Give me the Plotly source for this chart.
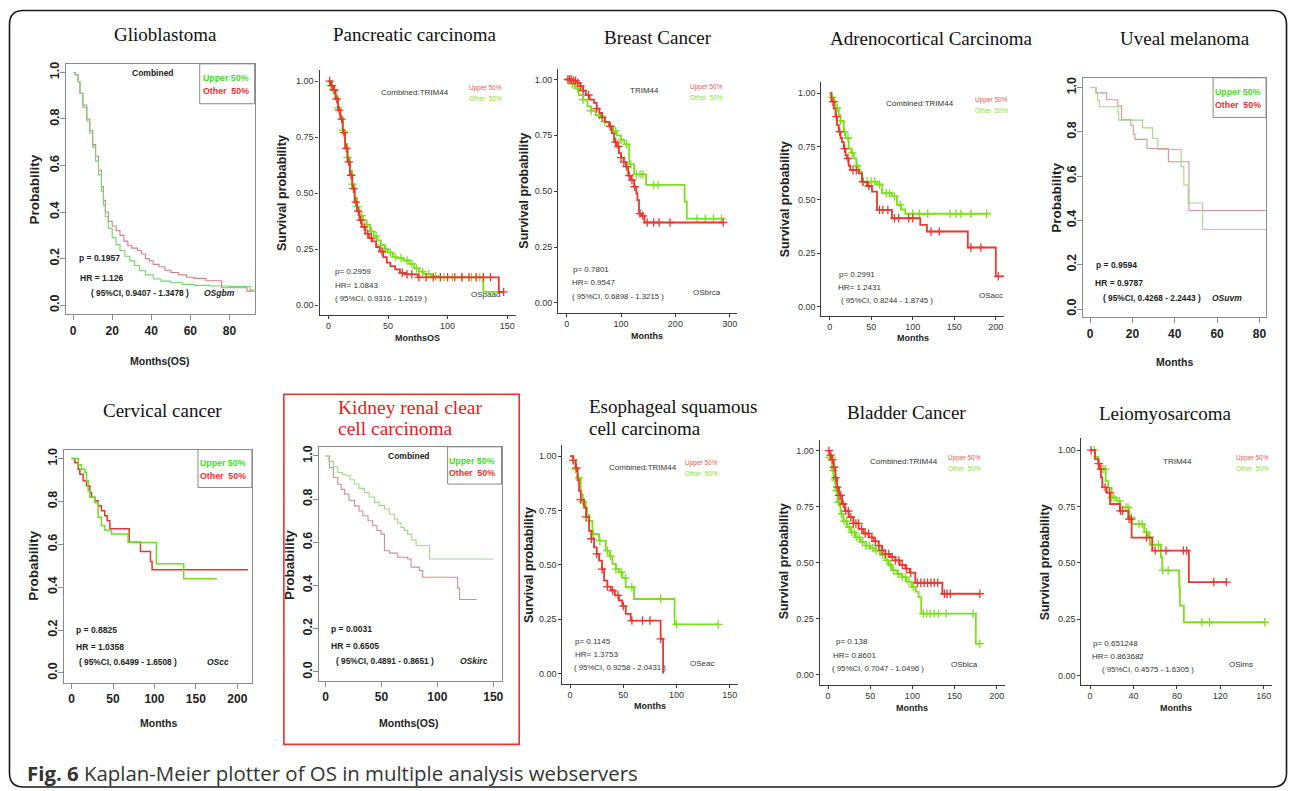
import numpy as np
import plotly.graph_objects as go

W, H = 1292, 791

# ------------------------------------------------------------------ DATA
# Glioblastoma (R style: Upper 50% green, Other 50% red)
gbm_up_t = [0, 1, 2.5, 3.5, 5, 7, 8.5, 10, 11.5, 13, 14.5, 15.5, 16.5, 18, 20, 22, 24, 26.5, 29, 31.5, 34, 37, 41, 45, 50, 56, 62, 70, 80, 90.5, 93]
gbm_up_s = [1.0, 0.99, 0.96, 0.91, 0.85, 0.79, 0.74, 0.68, 0.62, 0.56, 0.49, 0.43, 0.38, 0.33, 0.29, 0.26, 0.235, 0.21, 0.19, 0.17, 0.148, 0.13, 0.112, 0.103, 0.096, 0.089, 0.085, 0.082, 0.08, 0.065, 0.065]
gbm_ot_t = [0, 1, 2.5, 3.5, 5, 7, 8.5, 10, 11.5, 13, 14.5, 15.5, 16.5, 18, 20, 22, 24, 26, 28, 30, 33, 35, 37, 39, 41, 44, 47, 50, 54, 58, 62, 68, 76, 89, 93]
gbm_ot_s = [1.0, 0.99, 0.96, 0.91, 0.86, 0.80, 0.75, 0.69, 0.64, 0.58, 0.51, 0.45, 0.40, 0.36, 0.34, 0.32, 0.30, 0.275, 0.255, 0.245, 0.235, 0.22, 0.20, 0.19, 0.175, 0.165, 0.15, 0.14, 0.13, 0.12, 0.115, 0.105, 0.075, 0.06, 0.06]

# Pancreatic carcinoma (survminer: Upper 50% red, Other 50% green)
paad_up_t = [0, 2, 4, 6, 8, 10, 12, 14, 16, 18, 20, 22, 24, 26, 28, 31, 34, 37, 40, 43, 46, 49, 52, 56, 60, 65, 75, 143, 147]
paad_up_s = [1.0, 0.98, 0.96, 0.92, 0.87, 0.83, 0.77, 0.70, 0.64, 0.58, 0.52, 0.46, 0.42, 0.38, 0.35, 0.32, 0.30, 0.285, 0.26, 0.24, 0.215, 0.19, 0.175, 0.16, 0.145, 0.138, 0.125, 0.06, 0.06]
paad_ot_t = [0, 2, 4, 6, 8, 10, 12, 14, 16, 18, 20, 22, 24, 26, 29, 32, 35, 38, 41, 44, 47, 50, 54, 58, 63, 68, 72, 76, 80, 86, 92, 130, 147]
paad_ot_s = [1.0, 0.98, 0.96, 0.93, 0.88, 0.84, 0.78, 0.72, 0.66, 0.60, 0.54, 0.48, 0.44, 0.40, 0.38, 0.36, 0.33, 0.31, 0.29, 0.27, 0.25, 0.235, 0.215, 0.21, 0.20, 0.185, 0.165, 0.15, 0.14, 0.13, 0.125, 0.06, 0.06]
paad_up_c = [1, 3, 5, 7, 9, 11, 13, 15, 17, 19, 21, 23, 25, 27, 30, 33, 36, 45, 62, 66, 70, 76, 82, 88, 94, 100, 106, 112, 118, 124, 130, 136, 147]
paad_ot_c = [2, 4, 8, 12, 16, 20, 24, 28, 32, 36, 40, 44, 48, 52, 56, 61, 66, 70, 74, 79, 84, 90, 97, 104, 112, 120, 127]

# Breast cancer
brca_up_t = [0, 10, 20, 25, 30, 35, 42, 50, 55, 60, 65, 70, 78, 83, 87, 92, 96, 100, 105, 109, 113, 118, 124, 128, 130, 133, 138, 143, 288]
brca_up_s = [1.0, 0.995, 0.985, 0.97, 0.95, 0.93, 0.91, 0.895, 0.87, 0.85, 0.83, 0.81, 0.79, 0.76, 0.72, 0.70, 0.67, 0.65, 0.63, 0.61, 0.57, 0.55, 0.52, 0.49, 0.46, 0.40, 0.39, 0.36, 0.36]
brca_ot_t = [0, 8, 15, 22, 30, 38, 45, 53, 62, 70, 78, 86, 92, 100, 106, 115, 124, 146, 217, 221, 288]
brca_ot_s = [1.0, 0.98, 0.96, 0.93, 0.91, 0.88, 0.86, 0.84, 0.83, 0.81, 0.79, 0.77, 0.75, 0.73, 0.71, 0.62, 0.575, 0.528, 0.454, 0.377, 0.377]
brca_up_c = [2, 5, 8, 12, 16, 20, 25, 30, 40, 55, 65, 80, 90, 95, 100, 105, 110, 115, 120, 125, 135, 140, 148, 160, 170, 190, 288]
brca_ot_c = [5, 10, 20, 30, 45, 60, 70, 80, 90, 100, 110, 118, 128, 135, 140, 160, 168, 240, 255, 270, 285]

# Adrenocortical carcinoma
acc_up_t = [0, 2, 4.8, 7, 8.8, 11, 13, 14.8, 17, 19, 20.8, 22.8, 24.8, 34.9, 38.9, 45, 50.9, 56.9, 74.9, 109, 117, 166.3, 200, 210]
acc_up_s = [1.0, 0.96, 0.928, 0.89, 0.85, 0.82, 0.79, 0.771, 0.74, 0.71, 0.694, 0.66, 0.639, 0.624, 0.584, 0.565, 0.539, 0.453, 0.414, 0.383, 0.352, 0.277, 0.142, 0.142]
acc_ot_t = [0, 2, 4.8, 7, 10.8, 13, 16.8, 19, 22.8, 26, 28.9, 32, 34.9, 38.9, 56.9, 62.9, 74.9, 80.9, 86, 91, 189]
acc_ot_s = [1.0, 0.98, 0.96, 0.93, 0.897, 0.87, 0.819, 0.79, 0.741, 0.72, 0.694, 0.66, 0.632, 0.586, 0.572, 0.531, 0.516, 0.477, 0.455, 0.435, 0.435]
acc_up_c = [4, 8, 12, 18, 22, 28, 32, 40, 47, 60, 64, 70, 78, 83, 95, 100, 122, 132, 170, 182, 203]
acc_ot_c = [3, 6, 9, 13, 18, 22, 27, 33, 40, 45, 50, 54, 60, 68, 72, 78, 85, 100, 108, 118, 145, 152, 158, 170, 189]

# Uveal melanoma (R style)
uvm_up_t = [0, 2.8, 3.6, 4.4, 13.1, 13.5, 24.8, 29.5, 32, 43, 44.3, 46.3, 53.2, 83]
uvm_up_s = [1.0, 0.973, 0.943, 0.913, 0.89, 0.853, 0.818, 0.77, 0.72, 0.643, 0.56, 0.479, 0.359, 0.359]
uvm_ot_t = [0, 2.8, 7.9, 13.1, 14.9, 19.3, 20.4, 21.2, 26.9, 37, 46.7, 83]
uvm_ot_s = [1.0, 0.976, 0.945, 0.916, 0.855, 0.83, 0.79, 0.766, 0.725, 0.665, 0.445, 0.445]

# Cervical cancer (R style)
cc_up_t = [0, 8, 12, 16, 18, 20, 22, 28, 32, 36, 40, 48.2, 68.2, 102.4, 135.3, 175.4]
cc_up_s = [1.0, 0.971, 0.95, 0.935, 0.896, 0.85, 0.819, 0.795, 0.726, 0.687, 0.667, 0.648, 0.609, 0.509, 0.439, 0.439]
cc_ot_t = [0, 4, 8, 10, 14, 18, 22, 24.1, 28, 32, 36, 40, 43, 46.2, 69.5, 83.1, 95.2, 97.1, 212.8]
cc_ot_s = [1.0, 0.981, 0.95, 0.927, 0.896, 0.873, 0.842, 0.819, 0.803, 0.78, 0.757, 0.733, 0.71, 0.672, 0.61, 0.567, 0.52, 0.481, 0.481]

# Kidney renal clear cell carcinoma (R style)
kirc_up_t = [0, 3, 7, 11, 15, 18.5, 22, 25.9, 30, 34.8, 39, 43.8, 48, 52.7, 57, 61.6, 64.5, 67.6, 70.5, 73.5, 77, 81, 92.9, 150.3]
kirc_up_s = [1.0, 0.975, 0.95, 0.923, 0.915, 0.908, 0.89, 0.87, 0.85, 0.831, 0.81, 0.785, 0.77, 0.754, 0.73, 0.708, 0.69, 0.669, 0.655, 0.638, 0.61, 0.585, 0.523, 0.523]
kirc_ot_t = [0, 3.6, 7, 11, 14, 17, 21, 25.9, 30, 33.3, 38, 42.2, 46, 49.7, 52.7, 57.2, 64.6, 73.5, 76.5, 83.9, 86.9, 118.1, 119.9, 135.1]
kirc_ot_s = [1.0, 0.946, 0.90, 0.869, 0.845, 0.823, 0.795, 0.769, 0.745, 0.723, 0.70, 0.677, 0.655, 0.638, 0.561, 0.55, 0.531, 0.523, 0.485, 0.469, 0.438, 0.388, 0.335, 0.335]

# Esophageal squamous cell carcinoma
eac_up_t = [0, 3, 5.3, 7, 8.4, 10, 13.1, 15, 17.8, 20, 22.5, 25, 27.2, 30, 31.9, 35, 38.2, 42, 45.9, 49, 52.2, 56.9, 85, 87.3]
eac_up_s = [1.0, 0.98, 0.946, 0.89, 0.84, 0.80, 0.763, 0.72, 0.656, 0.62, 0.58, 0.55, 0.519, 0.48, 0.427, 0.40, 0.382, 0.36, 0.336, 0.31, 0.275, 0.244, 0.16, 0.0]
eac_ot_t = [0, 3, 5, 6.9, 10, 12, 14.7, 16, 17.8, 20.9, 27.2, 33.5, 37, 39.7, 43, 45.9, 49, 52.2, 60, 98.1, 138.8]
eac_ot_s = [1.0, 0.97, 0.94, 0.90, 0.824, 0.79, 0.763, 0.73, 0.702, 0.641, 0.611, 0.565, 0.54, 0.504, 0.48, 0.466, 0.44, 0.397, 0.343, 0.226, 0.226]
eac_up_c = [3, 6, 10, 15, 20, 25, 30, 35, 40, 45, 50, 58, 68, 75, 85]
eac_ot_c = [5, 8, 12, 18, 22, 28, 35, 38, 43, 48, 52, 58, 85, 100, 139]

# Bladder cancer
blca_up_t = [0, 2, 4, 6.7, 8.7, 10.7, 13, 16.6, 20, 24.5, 30, 36.3, 42, 48.2, 54, 60, 64, 67.9, 74, 79.8, 85, 91.6, 97, 103.4, 135.5, 180.3]
blca_up_s = [1.0, 0.98, 0.96, 0.926, 0.88, 0.837, 0.80, 0.762, 0.73, 0.703, 0.675, 0.651, 0.63, 0.613, 0.595, 0.576, 0.555, 0.539, 0.525, 0.51, 0.49, 0.473, 0.455, 0.41, 0.361, 0.361]
blca_ot_t = [0, 2, 4.7, 6.5, 8.7, 11, 14.7, 18, 22.5, 27, 32.4, 38, 44.3, 50, 56.1, 62, 67.9, 72, 75.7, 82, 87.6, 93, 99.4, 104, 107.3, 110.5, 175.2, 180]
blca_ot_s = [1.0, 0.97, 0.911, 0.87, 0.822, 0.77, 0.718, 0.685, 0.658, 0.635, 0.613, 0.593, 0.576, 0.565, 0.554, 0.535, 0.51, 0.49, 0.465, 0.45, 0.435, 0.415, 0.391, 0.37, 0.346, 0.272, 0.138, 0.138]
blca_up_c = [1, 3, 5, 7, 9, 11, 13, 15, 18, 21, 24, 27, 30, 33, 36, 40, 44, 48, 52, 56, 60, 64, 68, 72, 76, 80, 84, 88, 93, 98, 106, 110, 114, 118, 122, 126, 130, 138, 141, 145, 180]
blca_ot_c = [2, 4, 6, 8, 10, 12, 14, 16, 19, 22, 25, 28, 31, 34, 37, 41, 45, 49, 53, 57, 61, 65, 70, 74, 78, 83, 88, 92, 96, 101, 113, 117, 121, 126, 131, 140, 172, 180]

# Leiomyosarcoma
lms_up_t = [0, 4.6, 7.7, 9.2, 10.1, 11.3, 15.3, 18.4, 27.6, 35.2, 38.3, 57.3, 91, 125.6]
lms_up_s = [1.0, 0.96, 0.94, 0.916, 0.879, 0.835, 0.812, 0.761, 0.731, 0.694, 0.612, 0.554, 0.414, 0.414]
lms_ot_t = [0, 4.6, 7.7, 14.4, 16.8, 19.9, 24.5, 27.6, 35.9, 38.3, 49.9, 53.6, 55.2, 65.3, 66.5, 82.1, 82.8, 86.4, 160.9]
lms_ot_s = [1.0, 0.97, 0.916, 0.863, 0.833, 0.79, 0.775, 0.746, 0.702, 0.673, 0.636, 0.614, 0.58, 0.525, 0.466, 0.392, 0.31, 0.236, 0.236]
lms_up_c = [1, 8, 10, 14, 18, 28, 30, 36, 38, 52, 60, 70, 86, 89, 114, 125.6]
lms_ot_c = [4, 12, 14, 20, 22, 27, 33, 35, 38, 45, 48, 52, 55, 63, 67, 72, 103, 110, 160.9]

# ------------------------------------------------------------------ STYLE
NARROW = "Liberation Sans Narrow, Arial Narrow, Liberation Sans, Arial, sans-serif"
SANS = "Liberation Sans, Arial, sans-serif"
SERIF = "Liberation Serif, Times New Roman, serif"

S_RED, S_GREEN = "#e8392f", "#7ddf1c"
S_RED_T, S_GREEN_T = "#ea5a50", "#86e22a"

def px(x):
    return x / W

def py(y):
    return 1 - y / H

def step_at(t, s, times):
    t = np.asarray(t, float); s = np.asarray(s, float)
    idx = np.searchsorted(t, np.asarray(times, float), side="right") - 1
    return s[np.clip(idx, 0, len(s) - 1)]

fig = go.Figure()
annotations = []
shapes = []

def ann(text, x, y, size, color="#222", family=NARROW, weight="normal", xanchor="center",
        angle=0, style="normal"):
    annotations.append(dict(text=text, x=px(x), y=py(y), xref="paper", yref="paper",
                            showarrow=False, xanchor=xanchor, yanchor="middle",
                            textangle=angle,
                            font=dict(size=size, color=color, family=family,
                                      weight=weight, style=style)))

def axname(i):
    return ("x" if i == 1 else f"x{i}"), ("y" if i == 1 else f"y{i}")

def add_panel(i, kind, box, xr, yr, xt, yt, ytxt):
    L, T, R, B = box
    xa, ya = axname(i)
    kx = "xaxis" if i == 1 else f"xaxis{i}"
    ky = "yaxis" if i == 1 else f"yaxis{i}"
    if kind == "R":
        xa_d = dict(domain=[px(L), px(R)], range=xr, anchor=ya, showgrid=False, zeroline=False,
                    showline=True, linecolor="#8a8a8a", linewidth=1, mirror=True,
                    ticks="outside", ticklen=5, tickcolor="#8a8a8a", tickvals=xt,
                    ticktext=[str(v) for v in xt], ticklabelstandoff=0,
                    tickfont=dict(family=SANS, size=12, color="#222", weight="bold"))
        ya_d = dict(domain=[py(B), py(T)], range=yr, anchor=xa, showgrid=False, zeroline=False,
                    showline=True, linecolor="#8a8a8a", linewidth=1, mirror=True,
                    ticks="outside", ticklen=5, tickcolor="#8a8a8a", tickvals=yt, ticktext=ytxt,
                    tickangle=-90, ticklabelstandoff=-4,
                    tickfont=dict(family=SANS, size=12.5, color="#222", weight="bold"))
    else:
        xa_d = dict(domain=[px(L), px(R)], range=xr, anchor=ya, showgrid=False, zeroline=False,
                    showline=True, linecolor="#3a3a3a", linewidth=1.2,
                    ticks="outside", ticklen=3, tickcolor="#3a3a3a", tickvals=xt,
                    ticktext=[str(v) for v in xt], ticklabelstandoff=-1,
                    tickfont=dict(family=SANS, size=9, color="#333"))
        ya_d = dict(domain=[py(B), py(T)], range=yr, anchor=xa, showgrid=False, zeroline=False,
                    showline=True, linecolor="#3a3a3a", linewidth=1.2,
                    ticks="outside", ticklen=3, tickcolor="#3a3a3a", tickvals=yt, ticktext=ytxt,
                    ticklabelstandoff=0,
                    tickfont=dict(family=SANS, size=9, color="#333"))
    fig.layout[kx] = xa_d
    fig.layout[ky] = ya_d

def curve(i, t, s, color, width, censor=None):
    xa, ya = axname(i)
    fig.add_trace(go.Scatter(x=t, y=s, mode="lines", line=dict(color=color, width=width, shape="hv"),
                             xaxis=xa, yaxis=ya, hoverinfo="skip"))
    if censor is not None:
        fig.add_trace(go.Scatter(x=censor, y=step_at(t, s, censor), mode="markers",
                                 marker=dict(symbol="cross-thin", size=6,
                                             line=dict(width=1.3, color=color)),
                                 xaxis=xa, yaxis=ya, hoverinfo="skip"))

R_YT = [0, 0.2, 0.4, 0.6, 0.8, 1.0]
R_YTXT = ["0.0", "0.2", "0.4", "0.6", "0.8", "1.0"]
S_YT = [0, 0.25, 0.5, 0.75, 1.0]
S_YTXT = ["0.00", "0.25", "0.50", "0.75", "1.00"]

# ---------------- panel 1: Glioblastoma
add_panel(1, "R", (66, 62, 255, 313), [-3.7, 92.9], [-0.039, 1.037], [0, 20, 40, 60, 80], R_YT, R_YTXT)
curve(1, gbm_ot_t, gbm_ot_s, "#d97f7f", 1.1)
curve(1, gbm_up_t, gbm_up_s, "#6fd86f", 1.1)
# ---------------- panel 2: Pancreatic
add_panel(2, "S", (320, 68, 517, 314), [-7.5, 157.6], [-0.044, 1.05], [0, 50, 100, 150], S_YT, S_YTXT)
curve(2, paad_ot_t, paad_ot_s, S_GREEN, 1.8, paad_ot_c)
curve(2, paad_up_t, paad_up_s, S_RED, 1.8, paad_up_c)
# ---------------- panel 3: Breast
add_panel(3, "S", (559, 66.7, 738.3, 312), [-16, 313.8], [-0.046, 1.049], [0, 100, 200, 300], S_YT, S_YTXT)
curve(3, brca_ot_t, brca_ot_s, S_GREEN, 1.8, brca_ot_c)
curve(3, brca_up_t, brca_up_s, S_RED, 1.8, brca_up_c)
# ---------------- panel 4: Adrenocortical
add_panel(4, "S", (822.7, 80.7, 1006, 315), [-10, 210.4], [-0.045, 1.05], [0, 50, 100, 150, 200], S_YT, S_YTXT)
curve(4, acc_ot_t, acc_ot_s, S_GREEN, 1.8, acc_ot_c)
curve(4, acc_up_t, acc_up_s, S_RED, 1.8, acc_up_c)
# ---------------- panel 5: Uveal
add_panel(5, "R", (1084.3, 76, 1268, 316), [-3.5, 83.1], [-0.037, 1.044], [0, 20, 40, 60, 80], R_YT, R_YTXT)
curve(5, uvm_ot_t, uvm_ot_s, "#d49595", 1.1)
curve(5, uvm_up_t, uvm_up_s, "#9ddc86", 1.1)
# ---------------- panel 6: Cervical
add_panel(6, "R", (64.3, 448.7, 252.3, 682.7), [-8.9, 217.6], [-0.047, 1.042], [0, 50, 100, 150, 200], R_YT, R_YTXT)
curve(6, cc_ot_t, cc_ot_s, "#e03a30", 1.5)
curve(6, cc_up_t, cc_up_s, "#6edc24", 1.5)
# ---------------- panel 7: Kidney
add_panel(7, "R", (319.3, 446, 502.3, 680.7), [-6, 157.4], [-0.042, 1.042], [0, 50, 100, 150], R_YT, R_YTXT)
curve(7, kirc_ot_t, kirc_ot_s, "#d09090", 1.1)
curve(7, kirc_up_t, kirc_up_s, "#9ddc86", 1.1)
# ---------------- panel 8: Esophageal
add_panel(8, "S", (563.3, 444.3, 739, 684), [-7.2, 157.5], [-0.049, 1.05], [0, 50, 100, 150], S_YT, S_YTXT)
curve(8, eac_ot_t, eac_ot_s, S_GREEN, 1.8, eac_ot_c)
curve(8, eac_up_t, eac_up_s, S_RED, 1.8, eac_up_c)
# ---------------- panel 9: Bladder
add_panel(9, "S", (821, 439.3, 1006.7, 685), [-9.9, 210], [-0.048, 1.047], [0, 50, 100, 150, 200], S_YT, S_YTXT)
curve(9, blca_ot_t, blca_ot_s, S_GREEN, 1.8, blca_ot_c)
curve(9, blca_up_t, blca_up_s, S_RED, 1.8, blca_up_c)
# ---------------- panel 10: Leiomyosarcoma
add_panel(10, "S", (1083, 436.7, 1274, 685), [-8, 167.6], [-0.044, 1.056], [0, 40, 80, 120, 160], S_YT, S_YTXT)
curve(10, lms_ot_t, lms_ot_s, S_GREEN, 1.8, lms_ot_c)
curve(10, lms_up_t, lms_up_s, S_RED, 1.8, lms_up_c)

# ------------------------------------------------------------------ TEXT
TS = 19
ann("Glioblastoma", 166, 33, TS, "#111", SERIF)
ann("Pancreatic carcinoma", 416, 33, TS, "#111", SERIF)
ann("Breast Cancer", 659, 36, TS, "#111", SERIF)
ann("Adrenocortical Carcinoma", 933, 37, TS, "#111", SERIF)
ann("Uveal melanoma", 1187, 37, TS, "#111", SERIF)
ann("Cervical cancer", 162.7, 410, TS, "#111", SERIF)
ann("Kidney renal clear", 336.7, 406.7, 19.5, "#f01818", SERIF, xanchor="left")
ann("cell carcinoma", 336.7, 427.7, 19.5, "#f01818", SERIF, xanchor="left")
ann("Esophageal squamous", 588.3, 406, TS, "#111", SERIF, xanchor="left")
ann("cell carcinoma", 588.3, 427.7, TS, "#111", SERIF, xanchor="left")
ann("Bladder Cancer", 908, 412, TS, "#111", SERIF)
ann("Leiomyosarcoma", 1167, 413, TS, "#111", SERIF)

# R-style panel texts
def r_texts(combined_xy, leg_right, leg_y1, leg_y2, p_xy, hr_xy, ci_xy, os_xy, ptxt, hrtxt, citxt, ostxt,
            ylab_xy, ylab, xlab_xy, xlab):
    if combined_xy is not None:
        ann("Combined", combined_xy[0], combined_xy[1], 8.5, "#222", SANS, "bold")
    ann("Upper 50%", leg_right, leg_y1, 8.8, "#3ee01a", SANS, "bold", xanchor="right")
    ann("Other  50%", leg_right, leg_y2, 8.8, "#ee3030", SANS, "bold", xanchor="right")
    ann(ptxt, p_xy[0], p_xy[1], 8.5, "#222", SANS, "bold", xanchor="left")
    ann(hrtxt, hr_xy[0], hr_xy[1], 8.5, "#222", SANS, "bold", xanchor="left")
    ann(citxt, ci_xy[0], ci_xy[1], 8.3, "#222", SANS, "bold", xanchor="left")
    ann(ostxt, os_xy[0], os_xy[1], 8.5, "#222", SANS, "bold", style="italic")
    ann(ylab, ylab_xy[0], ylab_xy[1], 13.5, "#222", SANS, "bold", angle=-90)
    ann(xlab, xlab_xy[0], xlab_xy[1], 10.5, "#222", SANS, "bold")

r_texts((153, 71), 251, 76, 89, (77, 257), (78, 277), (89, 292), (220, 292),
        "p = 0.1957", "HR = 1.126", "( 95%CI, 0.9407 - 1.3478 )", "OSgbm",
        (35, 188), "Probability", (160, 360), "Months(OS)")
r_texts(None, 1265, 90, 103, (1096, 264), (1095, 282), (1103, 297), (1229, 297),
        "p = 0.9594", "HR = 0.9787", "( 95%CI, 0.4268 - 2.2443 )", "OSuvm",
        (1058, 196), "Probability", (1176, 361), "Months")
r_texts(None, 248, 461.7, 475, (74.3, 629.3), (74.3, 646.7), (77.3, 661.7), (218.3, 661.7),
        "p = 0.8825", "HR = 1.0358", "( 95%CI, 0.6499 - 1.6508 )", "OScc",
        (33.3, 565), "Probability", (158.3, 723.3), "Months")
r_texts((409.3, 455), 497.7, 460, 471.7, (330, 628.3), (330, 646), (334.3, 660.7), (474.3, 660.7),
        "p = 0.0031", "HR = 0.6505", "( 95%CI, 0.4891 - 0.8651 )", "OSkirc",
        (290, 565), "Probability", (410, 722.7), "Months(OS)")

# survminer-style panel texts
def s_texts(head_xy, head, leg_x, leg_y1, leg_y2, p_xy, hr_xy, ci_xy, os_xy, ptxt, hrtxt, citxt, ostxt,
            ylab_xy, xlab_xy, xlab):
    ann(head, head_xy[0], head_xy[1], 8, "#333", SANS)
    ann("Upper 50%", leg_x, leg_y1, 6.5, S_RED_T, SANS)
    ann("Other  50%", leg_x, leg_y2, 6.5, S_GREEN_T, SANS)
    ann(ptxt, p_xy[0], p_xy[1], 8, "#333", SANS, xanchor="left")
    ann(hrtxt, hr_xy[0], hr_xy[1], 8, "#333", SANS, xanchor="left")
    ann(citxt, ci_xy[0], ci_xy[1], 7.8, "#333", SANS, xanchor="left")
    ann(ostxt, os_xy[0], os_xy[1], 8, "#333", SANS)
    ann("Survival probability", ylab_xy[0], ylab_xy[1], 12.5, "#222", SANS, "bold", angle=-90)
    ann(xlab, xlab_xy[0], xlab_xy[1], 9, "#222", SANS, "bold")

s_texts((416, 91), "Combined:TRIM44", 486, 86, 97, (334, 270), (334, 284), (334, 297), (486, 293),
        "p= 0.2959", "HR= 1.0843", "( 95%CI, 0.9316 - 1.2619 )", "OSpaad",
        (282, 192), (418, 337), "MonthsOS")
s_texts((645, 89), "TRIM44", 708, 85, 96, (572, 268), (571, 281), (571, 295), (708, 291),
        "p= 0.7801", "HR= 0.9547", "( 95%CI, 0.6898 - 1.3215 )", "OSbrca",
        (524, 189), (648, 335), "Months")
s_texts((921, 102), "Combined:TRIM44", 993, 98, 109, (838, 273), (837, 286), (840, 299), (993, 294),
        "p= 0.2991", "HR= 1.2431", "( 95%CI, 0.8244 - 1.8745 )", "OSacc",
        (787, 198), (914, 337), "Months")
s_texts((644, 467), "Combined:TRIM44", 703, 462, 473, (574, 641), (574, 654), (573, 667), (703, 663),
        "p= 0.1145", "HR= 1.3753", "( 95%CI, 0.9258 - 2.0431 )", "OSeac",
        (529.3, 564), (651, 706), "Months")
s_texts((905, 461), "Combined:TRIM44", 966, 457, 468, (835, 641), (832, 655), (831, 668), (966, 664),
        "p= 0.138", "HR= 0.8601", "( 95%CI, 0.7047 - 1.0496 )", "OSblca",
        (785, 561), (913, 708), "Months")
s_texts((1179, 461), "TRIM44", 1254, 457, 468, (1093, 643), (1092, 656), (1102, 669), (1243, 664),
        "p= 0.651248", "HR= 0.863682", "( 95%CI, 0.4575 - 1.6305 )", "OSlms",
        (1046.7, 561.7), (1178, 708), "Months")

# caption
annotations.append(dict(text="<b>Fig. 6</b> Kaplan-Meier plotter of OS in multiple analysis webservers",
                        x=px(25), y=py(773), xref="paper", yref="paper", showarrow=False,
                        xanchor="left", yanchor="middle",
                        font=dict(size=20.4, color="#333", family="Open Sans, sans-serif")))

# ------------------------------------------------------------------ SHAPES
def rect(x0, y0, x1, y1, color, width):
    shapes.append(dict(type="rect", xref="paper", yref="paper", x0=px(x0), x1=px(x1),
                       y0=py(y1), y1=py(y0), line=dict(color=color, width=width),
                       fillcolor="rgba(0,0,0,0)"))

# legend boxes of R-style panels
rect(200, 62, 255, 102, "#8a8a8a", 1)
rect(1215, 76, 1268, 115.7, "#8a8a8a", 1)
rect(198.3, 448.7, 252.3, 486.7, "#8a8a8a", 1)
rect(448.3, 446, 502.3, 483.3, "#8a8a8a", 1)
# highlight box around kidney panel
rect(284.3, 393.3, 520, 744.3, "#f03030", 1.6)

# outer rounded frame
r = 14
x0, y0, x1, y1 = 9.5, 8.5, 1288.5, 787
def P(x, y):
    return f"{px(x):.6f},{py(y):.6f}"
path = (f"M {P(x0, y0 + r)} Q {P(x0, y0)} {P(x0 + r, y0)} L {P(x1 - r, y0)} "
        f"Q {P(x1, y0)} {P(x1, y0 + r)} L {P(x1, y1 - r)} Q {P(x1, y1)} {P(x1 - r, y1)} "
        f"L {P(x0 + r, y1)} Q {P(x0, y1)} {P(x0, y1 - r)} Z")
shapes.append(dict(type="path", xref="paper", yref="paper", path=path,
                   line=dict(color="#1a1a1a", width=1.6), fillcolor="rgba(0,0,0,0)"))

fig.update_layout(width=W, height=H, autosize=False, margin=dict(l=0, r=0, t=0, b=0, pad=0),
                  paper_bgcolor="white", plot_bgcolor="white", showlegend=False,
                  annotations=annotations, shapes=shapes)

fig.write_html("out.html", config={"displayModeBar": False},
               post_script="document.body.style.margin='0';document.body.style.padding='0';")
